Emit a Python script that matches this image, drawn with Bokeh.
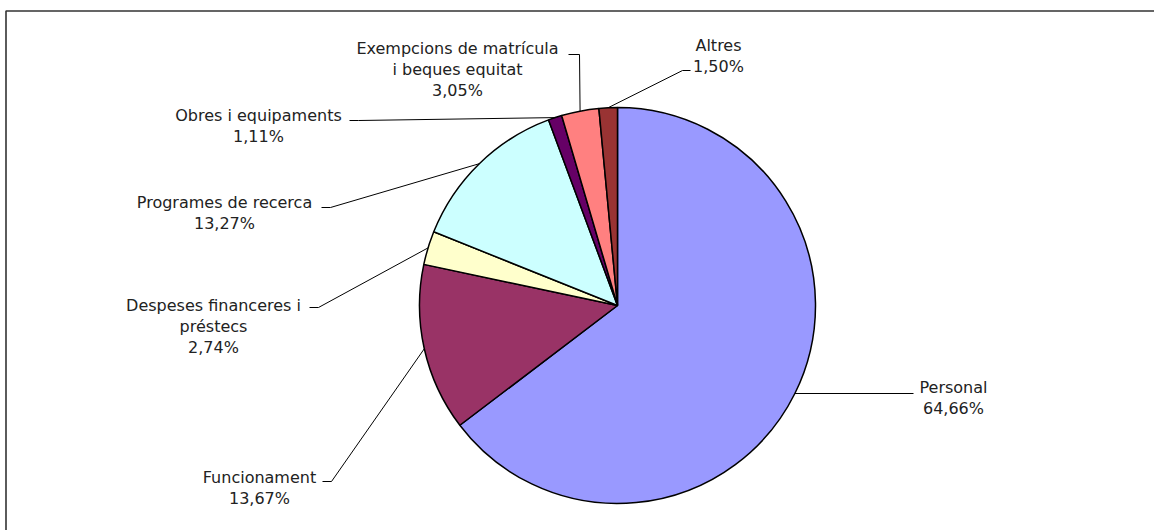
import numpy as np
from bokeh.plotting import figure
from bokeh.models import Range1d
from bokeh.embed import file_html
from bokeh.resources import INLINE
from bokeh.core.properties import value

# ---- data ----
categories = ["Personal", "Funcionament", "Despeses financeres i\npréstecs",
              "Programes de recerca", "Obres i equipaments",
              "Exempcions de matrícula\ni beques equitat", "Altres"]
shares = [64.66, 13.67, 2.74, 13.27, 1.11, 3.05, 1.50]
colors = ["#9999FF", "#993366", "#FFFFCC", "#CCFFFF", "#660066", "#FF8080", "#993333"]

# ---- layout (screen pixels) ----
W, H = 1154, 530
CX, CY, R = 617, 305, 198
LINE_GAP = 21
# text centre x, first line centre y, elbow point, end point
label_cx = [953, 259, 213, 224, 258, 457, 718]
label_y0 = [387, 477, 305, 202, 115, 48, 45]
elbows = [(913, 393), (331, 481), (318, 307), (330, 207), (358, 120), (579, 54), (682, 70)]
ends = [(913, 393), (322, 481), (309, 307), (321, 207), (349, 120), (568, 54), (690, 70)]


def Y(sy):
    return H - sy


p = figure(width=W, height=H, x_range=Range1d(0, W), y_range=Range1d(0, H),
           output_backend="svg", toolbar_location=None, min_border=0,
           x_axis_location=None, y_axis_location=None)
p.grid.visible = False
p.outline_line_color = None
p.background_fill_color = "white"
p.border_fill_color = "white"

# frame (cropped at right/bottom as in the reference)
p.line(x=[5.5, 5.5, 1170], y=[-10, Y(10.5), Y(10.5)], line_color="#333333", line_width=1.6)

vals = np.array(shares, dtype=float)
frac = vals / vals.sum() * 2 * np.pi
cum_end = np.cumsum(frac)
cum_start = cum_end - frac
start_angle = np.pi / 2 - cum_end
end_angle = np.pi / 2 - cum_start

p.wedge(x=[CX] * len(vals), y=[Y(CY)] * len(vals), radius=R,
        start_angle=list(start_angle), end_angle=list(end_angle),
        direction="anticlock", fill_color=colors, line_color="black", line_width=1.5)

# leader lines
mid = (start_angle + end_angle) / 2
xs, ys = [], []
for i in range(len(vals)):
    sx = CX + R * np.cos(mid[i])
    sy = CY - R * np.sin(mid[i])
    xs.append([sx, elbows[i][0], ends[i][0]])
    ys.append([Y(sy), Y(elbows[i][1]), Y(ends[i][1])])
p.multi_line(xs=xs, ys=ys, line_color="black", line_width=1)

# labels
tx, ty, tt = [], [], []
for i, (cat, v) in enumerate(zip(categories, shares)):
    lines = cat.split("\n") + [f"{v:.2f}".replace(".", ",") + "%"]
    for j, ln in enumerate(lines):
        tx.append(label_cx[i])
        ty.append(Y(label_y0[i] + j * LINE_GAP))
        tt.append(ln)
p.text(x=tx, y=ty, text=tt, text_font=value("DejaVu Sans"), text_font_size="16px",
       text_align="center", text_baseline="middle", text_color="#222222")

open("out.html", "w").write(file_html(p, INLINE))
